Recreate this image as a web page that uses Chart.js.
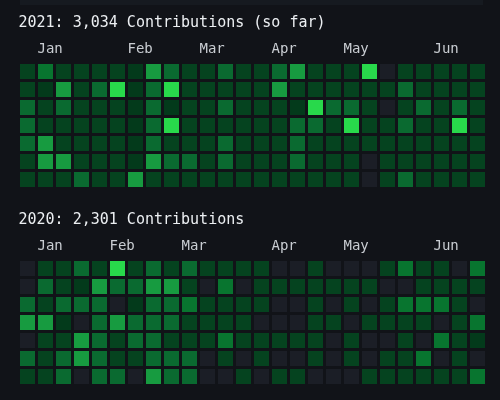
<!DOCTYPE html>
<html>
<head>
<meta charset="utf-8">
<script src="https://cdn.jsdelivr.net/npm/chart.js@4/dist/chart.umd.min.js"></script>
<style>
  html, body { margin: 0; padding: 0; background: #111318; }
  #wrap { position: relative; width: 500px; height: 400px; overflow: hidden; background: #111318; }
  #band { position: absolute; left: 20px; top: 0; width: 463px; height: 5px; background: #161a20; }
  canvas { position: absolute; left: 0; }
  #c1 { top: 0; }
  #c2 { top: 197px; }
</style>
</head>
<body>
<div id="wrap">
  <div id="band"></div>
  <canvas id="c1" width="500" height="200"></canvas>
  <canvas id="c2" width="500" height="200"></canvas>
</div>
<script>
// ---- data ----
const weekdays = [0, 1, 2, 3, 4, 5, 6];
const monthNames = ['Jan', 'Feb', 'Mar', 'Apr', 'May', 'Jun'];
const monthWeeks2021 = [1, 6, 10, 14, 18, 23];
const monthWeeks2020 = [1, 5, 9, 14, 18, 23];
const title2021 = '2021: 3,034 Contributions (so far)';
const title2020 = '2020: 2,301 Contributions';

// contribution level per cell: one list per weekday row, one entry per week
const levels2021 = [
  [2,5,2,2,2,2,1,6,4, 2,2,4,2,2,4,6,2,2, 2,8,0,2,2,2,2,2],
  [2,1,6,2,4,8,1,4,8, 2,2,2,2,2,6,2,2,2, 2,2,2,4,2,2,2,2],
  [4,2,4,2,2,2,1,4,1, 2,2,4,2,2,2,1,8,4, 4,2,0,2,4,2,4,2],
  [4,2,2,2,2,2,1,4,8, 2,2,2,2,2,2,4,4,2, 8,2,2,4,2,2,8,2],
  [4,6,2,2,2,2,1,4,2, 2,2,4,2,2,2,4,2,2, 2,2,2,2,2,2,2,2],
  [2,6,6,2,2,2,1,6,4, 4,2,4,2,2,2,4,2,2, 2,0,2,2,2,2,2,2],
  [2,2,2,4,2,2,6,2,2, 2,2,2,2,2,2,2,2,2, 2,0,2,4,2,2,2,2]
];
const levels2020 = [
  [0,2,2,4,2,8,2,4,2, 4,2,2,2,2,0,0,2,0, 0,0,2,5,2,2,0,5],
  [0,4,2,1,6,4,4,6,6, 2,0,5,0,2,2,2,2,2, 2,2,0,0,2,2,2,2],
  [4,2,4,4,4,0,1,4,4, 5,2,2,2,2,0,0,2,0, 2,0,2,5,5,5,2,0],
  [6,6,1,0,4,6,4,4,4, 2,2,2,2,0,0,0,2,2, 0,2,2,2,2,0,2,5],
  [0,2,2,6,4,2,4,4,2, 2,2,5,2,2,2,2,2,0, 2,0,0,2,0,5,2,1],
  [4,2,4,6,4,2,2,4,4, 4,0,2,0,2,0,0,2,0, 2,0,2,2,5,0,2,0],
  [2,2,4,0,4,4,0,6,4, 4,0,0,2,0,2,2,0,0, 0,2,2,2,2,2,2,5]
];

// level -> colour
const palette = ['#1b1e26', '#033a1b', '#05431f', '#075529', '#0a6a30', '#08752f', '#179b40', '#1fb545', '#28d94b'];

const FONT = "'DejaVu Sans Mono', 'Liberation Mono', monospace";

function buildPoints(levels) {
  const pts = [];
  weekdays.forEach((r) => {
    levels[r].forEach((v, c) => pts.push({ x: c, y: r, v: v }));
  });
  return pts;
}

function makeChart(id, titleText, levels, monthWeeks) {
  const weekCount = levels[0].length;
  const side = 15;
  const radius = side / Math.SQRT2;
  return new Chart(document.getElementById(id), {
    type: 'scatter',
    data: {
      datasets: [{
        data: buildPoints(levels),
        pointStyle: 'rect',
        pointRadius: radius,
        pointHoverRadius: radius,
        borderWidth: 0,
        pointBorderWidth: 0,
        backgroundColor: (ctx) => palette[ctx.raw ? ctx.raw.v : 0],
        hoverBackgroundColor: (ctx) => palette[ctx.raw ? ctx.raw.v : 0]
      }]
    },
    options: {
      responsive: false,
      animation: false,
      devicePixelRatio: 1,
      events: [],
      layout: { padding: { top: 0, left: 18.5, right: 13.5, bottom: 11.5 } },
      plugins: {
        legend: { display: false },
        tooltip: { enabled: false },
        title: {
          display: true,
          text: titleText,
          align: 'start',
          color: '#eceff2',
          font: { family: FONT, size: 15, weight: 'normal' },
          padding: { top: 14, bottom: 7 }
        }
      },
      scales: {
        x: {
          type: 'linear',
          position: 'top',
          min: -0.5,
          max: weekCount - 0.5,
          afterBuildTicks: (scale) => {
            scale.ticks = monthWeeks.map((w) => ({ value: w - 0.5 }));
          },
          afterFit: (scale) => { scale.height = 23.5; },
          grid: { display: false, drawTicks: false },
          border: { display: false },
          ticks: {
            autoSkip: false,
            maxRotation: 0,
            align: 'start',
            padding: 4.5,
            labelOffset: 1,
            color: '#c9cdd2',
            font: { family: FONT, size: 14 },
            callback: (v, i) => monthNames[i]
          }
        },
        y: {
          type: 'linear',
          min: -0.5,
          max: weekdays.length - 0.5,
          reverse: true,
          display: false
        }
      }
    }
  });
}

makeChart('c1', title2021, levels2021, monthWeeks2021);
makeChart('c2', title2020, levels2020, monthWeeks2020);
</script>
</body>
</html>
